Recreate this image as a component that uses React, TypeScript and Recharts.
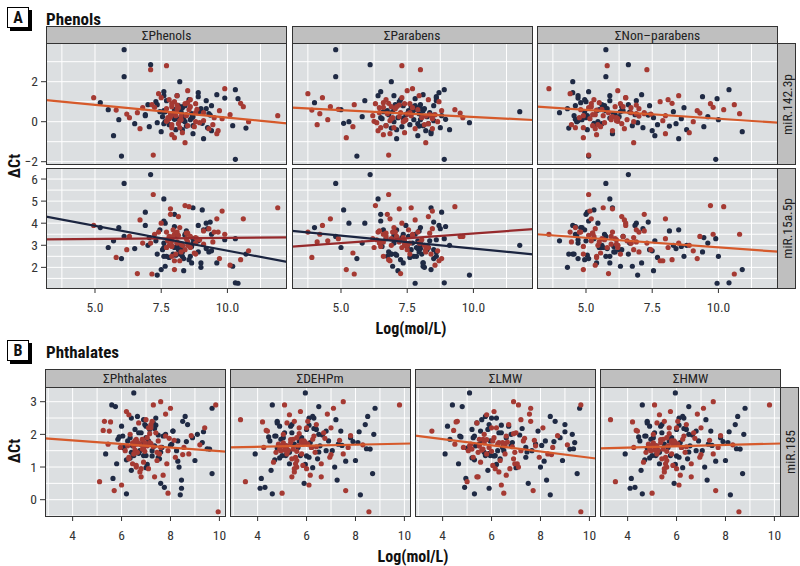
import { CartesianGrid, Scatter, ScatterChart, XAxis, YAxis } from "recharts";

// ---- data ----
// Panel A: same subjects in every facet, so one y array per miRNA row and
// one x array per exposure column. group 0 = navy, 1 = red.
const y142 = [
  3.6, 2.85, 2.8, 2.6, 2.25, 2.0, 1.65, 1.6, 1.55, 1.5,
  -1.72, -1.88, -1.67, -1.05, -0.85, -0.8, -0.7, -0.65, -0.6, -0.55,
  1.4, 1.35, 1.3, 1.3, 1.25, 1.2, 1.15, 1.1, 1.1, 1.05,
  1.0, 1.0, 0.95, 0.9, 0.9, 0.85, 0.85, 0.8, 0.8, 0.75,
  0.75, 0.7, 0.7, 0.65, 0.65, 0.6, 0.6, 0.55, 0.55, 0.5,
  0.5, 0.45, 0.45, 0.4, 0.4, 0.4, 0.35, 0.35, 0.3, 0.3,
  0.3, 0.25, 0.25, 0.2, 0.2, 0.2, 0.15, 0.15, 0.1, 0.1,
  0.1, 0.05, 0.05, 0.0, 0.0, 0.0, -0.05, -0.05, -0.1, -0.1,
  -0.15, -0.15, -0.2, -0.2, -0.25, -0.25, -0.3, -0.3, -0.35, -0.4,
  -0.4, -0.45, -0.5, 0.62, 0.38, 0.12, 0.92, 0.48, -0.08, 0.28,
  0.72, 0.18, 1.18, 0.02, -0.22, 0.58, 0.33, 0.83, -0.32, 0.43,
  0.9, 0.35, 0.6, -0.1, 0.75, 0.2, 1.05, 0.45, -0.3, 0.55,
  0.15, 0.8, 0.3, 1.2, -0.2, 0.65, 0.4, 0.05, 0.95, 0.25,
  -0.45, 0.7, 0.5, 1.45, 0.1, 0.85, 0.35, -0.6, 0.6, 0.2,
  1.1, 0.45, -0.15, 0.75, 0.3, 0.0, 0.55, 1.3, -0.35, 0.4,
];
const y15a = [
  3.4, 6.2, 2.9, 3.1, 5.8, 2.6, 3.5, 1.3, 3.0, 4.1,
  2.4, 3.3, 5.3, 2.8, 3.7, 1.9, 3.2, 2.5, 4.7, 3.0,
  3.6, 2.2, 5.1, 3.1, 2.7, 3.9, 1.28, 3.4, 2.9, 4.0,
  3.2, 2.3, 3.8, 2.6, 4.8, 3.0, 1.7, 3.5, 2.8, 3.3,
  4.2, 2.5, 3.1, 2.0, 3.6, 4.75, 2.9, 3.4, 2.4, 3.7,
  3.0, 1.72, 3.2, 4.4, 2.7, 3.5, 2.1, 3.9, 3.3, 2.6,
  4.7, 3.1, 2.8, 3.6, 1.85, 3.4, 2.95, 4.55, 3.2, 2.5,
  3.8, 2.3, 3.05, 4.0, 2.75, 3.45, 1.65, 3.25, 2.85, 4.3,
  3.15, 2.45, 3.55, 2.05, 3.35, 2.65, 3.75, 2.95, 4.15, 3.0,
  2.55, 3.6, 1.9, 3.3, 2.8, 3.85, 2.35, 3.1, 4.6, 2.7,
  3.5, 2.2, 3.25, 2.9, 3.65, 2.45, 4.05, 3.15, 2.6, 3.4,
  3.2, 2.7, 3.6, 2.9, 3.4, 4.4, 2.5, 3.1, 3.8, 2.2,
  3.0, 3.5, 2.6, 4.0, 3.3, 2.85, 3.7, 2.4, 3.15, 4.65,
  2.75, 3.45, 2.05, 3.9, 3.05, 2.6, 3.55, 4.2, 2.9, 3.25,
  2.35, 3.65, 3.0, 2.8, 4.5, 3.35, 2.5, 3.1, 3.75, 2.95,
];
const groupA = [
  0, 0, 1, 1, 0, 0, 1, 0, 1, 0,
  0, 0, 1, 1, 0, 1, 0, 1, 0, 1,
  1, 0, 0, 0, 0, 1, 0, 1, 1, 0,
  0, 1, 0, 1, 1, 0, 1, 0, 0, 1,
  1, 0, 1, 0, 1, 1, 0, 0, 1, 0,
  0, 1, 0, 1, 0, 1, 1, 0, 1, 0,
  1, 0, 0, 1, 0, 1, 0, 1, 1, 0,
  0, 1, 1, 0, 1, 0, 0, 1, 0, 1,
  1, 0, 1, 0, 0, 1, 0, 1, 1, 0,
  0, 1, 0, 1, 1, 0, 1, 0, 0, 1,
  1, 0, 0, 1, 0, 1, 0, 1, 0, 1,
  1, 0, 1, 0, 1, 0, 0, 1, 1, 0,
  1, 0, 1, 1, 0, 0, 1, 0, 1, 1,
  0, 1, 0, 0, 1, 0, 1, 1, 0, 1,
  0, 1, 1, 0, 0, 1, 0, 1, 1, 0,
];
const xPhenols = [
  6.1, 7.1, 7.7, 7.1, 6.1, 8.2, 9.9, 10.3, 8.5, 7.6,
  6.0, 10.3, 7.2, 8.4, 9.1, 8.0, 5.7, 7.9, 8.7, 8.3,
  7.4, 9.6, 7.6, 8.1, 8.9, 4.95, 10.4, 7.8, 8.6, 9.2,
  7.3, 8.0, 5.2, 8.8, 8.4, 7.0, 7.15, 9.4, 8.15, 7.9,
  10.6, 8.3, 6.8, 9.0, 7.7, 8.55, 5.5, 8.05, 9.7, 7.45,
  8.25, 6.6, 8.9, 7.85, 9.3, 8.0, 10.1, 6.9, 8.45, 7.95,
  11.9, 8.7, 7.55, 9.5, 8.35, 6.3, 8.1, 9.8, 7.75, 8.6,
  5.9, 8.2, 9.1, 7.65, 10.8, 8.4, 7.35, 8.95, 6.5, 8.15,
  9.45, 7.8, 8.5, 10.2, 7.05, 8.75, 9.25, 7.9, 6.7, 8.3,
  8.05, 9.65, 7.5, 8.85, 6.2, 8.0, 10.5, 7.6, 9.05, 8.25,
  7.25, 8.65, 9.9, 7.7, 8.45, 5.8, 9.35, 8.1, 10.7, 7.95,
  7.9, 8.3, 8.1, 7.6, 8.6, 8.0, 7.7, 8.8, 8.2, 9.0,
  7.8, 8.4, 8.05, 7.5, 8.7, 9.2, 7.95, 8.35, 8.5, 7.85,
  9.4, 8.15, 7.65, 8.9, 8.25, 7.35, 8.45, 9.6, 8.0, 7.75,
  8.55, 9.1, 7.9, 8.3, 6.9, 8.8, 7.6, 8.1, 9.3, 8.65,
];
const xParabens = [
  4.8, 6.1, 7.3, 8.0, 4.8, 6.9, 7.7, 8.9, 7.5, 6.5,
  5.6, 8.9, 6.8, 8.2, 7.1, 5.2, 7.9, 6.6, 8.4, 7.4,
  3.75, 8.1, 6.4, 7.0, 8.6, 4.3, 7.8, 6.7, 8.3, 5.9,
  7.2, 8.7, 4.0, 7.6, 6.3, 8.0, 5.5, 7.35, 8.5, 6.9,
  4.6, 7.85, 6.45, 8.15, 7.05, 9.3, 5.0, 7.55, 8.8, 6.6,
  11.75, 7.25, 8.35, 6.75, 7.95, 4.2, 8.55, 7.45, 6.2, 8.05,
  7.65, 5.8, 8.25, 6.95, 7.15, 9.6, 6.55, 8.45, 4.5, 7.75,
  8.0, 6.85, 7.4, 5.3, 8.65, 7.0, 9.85, 6.35, 7.9, 8.3,
  4.1, 7.6, 6.7, 8.1, 7.3, 5.45, 8.75, 6.5, 7.8, 9.1,
  7.1, 6.4, 8.4, 4.9, 7.5, 8.95, 6.8, 7.7, 5.1, 8.2,
  6.6, 7.35, 8.6, 6.25, 7.95, 3.9, 8.5, 7.2, 6.9, 9.5,
  7.4, 6.8, 7.9, 8.3, 7.1, 6.5, 8.6, 7.6, 7.0, 8.1,
  6.9, 7.8, 8.4, 7.3, 6.7, 8.0, 7.55, 8.5, 6.6, 7.2,
  8.2, 7.7, 6.95, 8.7, 7.45, 7.05, 8.35, 6.85, 7.85, 8.05,
  7.25, 6.45, 8.15, 7.65, 8.8, 7.35, 6.75, 7.95, 8.45, 7.5,
];
const xNonParabens = [
  5.75, 6.6, 5.8, 7.3, 5.75, 4.5, 3.6, 10.4, 6.2, 5.1,
  5.1, 9.9, 5.1, 6.8, 8.5, 4.9, 7.6, 5.4, 6.0, 8.9,
  4.4, 7.1, 5.9, 4.7, 9.4, 6.5, 9.95, 5.3, 8.1, 6.9,
  5.0, 7.8, 4.8, 6.3, 9.7, 5.6, 10.6, 4.6, 7.4, 6.1,
  5.2, 8.7, 6.7, 4.3, 7.0, 10.2, 5.5, 6.4, 9.2, 4.95,
  8.3, 5.85, 4.0, 7.2, 6.05, 10.8, 5.35, 6.85, 8.0, 4.55,
  5.65, 9.6, 6.25, 4.75, 7.55, 5.95, 8.6, 5.15, 6.55, 10.0,
  4.85, 7.9, 6.15, 5.45, 9.05, 4.65, 6.95, 5.7, 8.4, 6.35,
  4.45, 7.7, 5.25, 6.75, 9.45, 5.55, 7.15, 4.9, 6.45, 8.8,
  5.05, 6.0, 10.9, 5.6, 7.45, 4.6, 8.25, 6.65, 5.3, 7.0,
  9.8, 5.9, 4.7, 6.2, 8.15, 5.4, 7.35, 6.9, 4.35, 9.3,
  5.2, 6.1, 4.8, 5.6, 6.4, 5.0, 5.9, 6.7, 4.6, 5.4,
  6.2, 5.7, 4.9, 6.5, 5.3, 5.8, 6.9, 4.7, 5.5, 6.0,
  7.5, 5.1, 6.3, 4.5, 5.95, 6.6, 5.25, 8.0, 5.65, 6.15,
  4.95, 7.2, 5.45, 6.35, 5.05, 6.8, 5.75, 8.5, 5.35, 6.05,
];

// Panel B: miR.185 against the four phthalate sums
const y185 = [
  3.27, 3.0, 2.9, 2.9, 2.9, 2.85, 2.8, 2.8, 2.6, 2.55,
  -0.37, 0.15, 0.18, 0.2, 0.28, 0.35, 0.38, 0.45, 0.5, 0.55,
  2.5, 2.45, 2.45, 2.4, 2.4, 2.35, 2.3, 2.3, 2.25, 2.2,
  2.2, 2.15, 2.1, 2.1, 2.05, 2.05, 2.0, 2.0, 1.95, 1.95,
  1.9, 1.9, 1.85, 1.85, 1.8, 1.8, 1.8, 1.75, 1.75, 1.7,
  1.7, 1.7, 1.65, 1.65, 1.65, 1.6, 1.6, 1.6, 1.55, 1.55,
  1.5, 1.5, 1.5, 1.45, 1.45, 1.4, 1.4, 1.35, 1.35, 1.3,
  1.3, 1.25, 1.2, 1.15, 1.1, 1.1, 1.05, 1.0, 0.95, 0.9,
  0.8, 0.75, 0.7, 0.65, 0.6, 1.72, 1.58, 1.88, 1.42, 2.12,
  1.62, 1.78, 1.52, 1.98, 1.68, 1.22, 2.28, 1.82, 1.48, 1.08,
  1.92, 1.38, 2.18, 1.74, 1.56, 0.85, 2.62, 1.28, 1.66, 2.02,
  1.84, 1.46, 2.38, 1.18, 1.76, 0.98, 2.08, 1.64, 1.34, 1.96,
  1.7, 2.2, 1.4, 1.9, 1.55, 2.5, 1.25, 1.8, 2.05, 1.6,
  1.0, 2.35, 1.75, 1.45, 2.0, 1.65, 2.7, 1.3, 1.85, 1.5,
  2.15, 1.1, 1.95, 1.7, 2.4, 1.35, 1.6, 0.7, 2.25, 1.8,
  1.5, 2.55, 1.2, 1.9, 1.75, 0.95, 2.1, 1.65, 1.4, 2.3,
];
const groupB = [
  0, 1, 1, 0, 1, 0, 0, 1, 1, 0,
  1, 0, 0, 1, 1, 0, 0, 1, 0, 1,
  0, 1, 0, 1, 0, 1, 1, 0, 0, 1,
  1, 0, 1, 0, 0, 1, 1, 0, 1, 0,
  0, 1, 1, 0, 1, 0, 0, 1, 0, 1,
  1, 0, 1, 0, 0, 1, 0, 1, 1, 0,
  0, 1, 0, 1, 1, 0, 1, 0, 0, 1,
  1, 0, 0, 1, 0, 1, 1, 0, 1, 0,
  0, 1, 1, 0, 0, 1, 0, 1, 0, 1,
  1, 0, 1, 0, 1, 0, 0, 1, 1, 0,
  0, 1, 0, 1, 0, 1, 1, 0, 0, 1,
  1, 0, 1, 0, 1, 0, 0, 1, 0, 1,
  0, 1, 1, 0, 1, 0, 1, 0, 0, 1,
  1, 0, 1, 0, 0, 1, 1, 0, 1, 0,
  0, 1, 0, 1, 1, 0, 0, 1, 0, 1,
  1, 0, 1, 0, 0, 1, 0, 1, 1, 0,
];
const xPhthalates = [
  6.5, 7.6, 9.85, 5.6, 7.3, 5.75, 9.7, 8.0, 6.3, 8.6,
  9.95, 8.4, 6.2, 7.9, 5.7, 8.45, 7.75, 6.0, 7.6, 5.1,
  6.4, 7.0, 6.9, 5.3, 8.5, 6.7, 7.2, 8.7, 6.0, 9.4,
  7.1, 6.55, 5.5, 8.1, 6.8, 7.4, 6.35, 9.1, 7.8, 6.05,
  8.9, 7.05, 6.6, 5.85, 7.5, 8.3, 6.25, 7.15, 9.3, 6.75,
  5.45, 8.05, 6.95, 7.35, 6.45, 8.55, 7.65, 5.95, 6.85, 9.6,
  7.25, 6.15, 8.25, 6.65, 7.45, 5.35, 8.75, 7.0, 6.5, 8.2,
  6.3, 7.55, 9.0, 6.9, 5.8, 7.85, 6.6, 8.35, 7.1, 6.4,
  9.7, 7.7, 6.8, 5.65, 8.45, 7.2, 6.1, 7.95, 6.7, 5.25,
  7.3, 8.65, 6.55, 7.5, 9.2, 6.2, 7.4, 8.15, 6.95, 7.05,
  5.9, 8.5, 7.35, 6.45, 9.5, 6.75, 7.8, 6.35, 8.0, 7.15,
  6.85, 7.6, 5.55, 8.3, 6.65, 7.0, 9.35, 6.5, 7.25, 8.85,
  6.8, 7.2, 6.5, 7.0, 6.9, 7.4, 6.3, 7.1, 6.7, 7.6,
  6.6, 7.3, 6.95, 6.4, 7.8, 7.05, 6.2, 7.5, 6.85, 6.75,
  7.15, 6.45, 7.7, 6.6, 7.25, 6.9, 6.1, 7.35, 7.0, 6.55,
  7.9, 6.65, 7.45, 6.35, 7.1, 6.8, 8.1, 6.25, 7.55, 6.95,
];
const xDEHPm = [
  5.95, 7.5, 9.8, 4.6, 5.1, 6.5, 8.8, 7.1, 5.3, 8.5,
  8.55, 8.2, 4.6, 5.0, 7.6, 4.1, 4.3, 6.1, 5.9, 3.5,
  6.1, 3.3, 7.2, 5.5, 4.8, 5.2, 6.4, 8.4, 4.9, 7.0,
  5.7, 6.0, 4.4, 7.4, 5.4, 6.7, 5.05, 8.75, 6.3, 4.7,
  7.8, 5.6, 6.25, 4.95, 5.8, 6.9, 4.5, 5.35, 8.1, 6.05,
  4.85, 7.3, 5.65, 6.55, 5.15, 7.7, 6.2, 4.25, 5.45, 8.6,
  6.8, 5.25, 7.05, 4.75, 6.35, 3.9, 7.5, 5.75, 5.0, 6.95,
  5.55, 6.45, 8.0, 4.65, 5.3, 6.6, 5.85, 7.15, 6.0, 4.55,
  8.7, 6.15, 5.4, 4.15, 7.25, 5.9, 4.8, 6.75, 5.2, 4.35,
  6.4, 7.9, 5.1, 6.65, 8.3, 4.7, 6.1, 7.35, 5.6, 5.95,
  4.45, 7.0, 6.3, 5.05, 8.45, 5.5, 6.85, 4.9, 7.45, 5.7,
  5.35, 6.5, 4.2, 7.6, 5.8, 6.25, 8.15, 5.15, 6.0, 7.8,
  5.5, 6.0, 5.2, 5.8, 4.9, 6.3, 5.4, 5.7, 5.1, 6.2,
  5.6, 4.8, 5.95, 5.3, 6.5, 5.0, 5.75, 6.1, 5.45, 5.25,
  6.4, 5.55, 4.75, 5.85, 6.05, 5.15, 5.65, 6.6, 5.35, 5.9,
  4.95, 6.25, 5.6, 5.05, 6.15, 5.5, 6.8, 5.2, 5.8, 5.4,
];
const xLMW = [
  5.1, 6.9, 9.65, 4.4, 7.1, 4.8, 9.6, 7.6, 5.8, 8.4,
  9.65, 8.4, 5.3, 6.5, 7.7, 5.9, 4.9, 6.4, 7.5, 5.0,
  6.2, 7.2, 5.6, 4.6, 8.6, 5.4, 6.7, 9.0, 4.2, 8.1,
  6.0, 5.2, 3.56, 7.9, 6.3, 7.0, 5.7, 9.3, 6.6, 4.7,
  8.8, 6.1, 5.5, 4.3, 7.3, 8.2, 5.95, 6.45, 9.4, 5.15,
  4.5, 7.8, 6.55, 5.35, 6.8, 8.5, 7.4, 4.85, 5.65, 9.2,
  6.25, 5.05, 7.65, 5.45, 6.95, 4.1, 8.3, 6.15, 5.75, 7.95,
  5.25, 6.35, 8.9, 5.55, 4.65, 7.05, 6.05, 8.0, 6.75, 5.85,
  9.5, 6.6, 5.4, 4.95, 8.25, 6.5, 5.0, 7.35, 5.9, 4.45,
  6.85, 8.55, 5.6, 7.15, 9.1, 5.3, 6.4, 7.75, 6.0, 6.2,
  4.75, 8.45, 7.25, 5.7, 9.35, 6.3, 7.55, 5.2, 8.05, 6.9,
  5.8, 7.45, 4.55, 8.15, 6.65, 7.0, 9.0, 5.5, 6.1, 8.7,
  5.5, 6.2, 5.8, 6.6, 5.2, 6.0, 6.9, 5.6, 6.4, 5.9,
  7.1, 5.4, 6.3, 5.7, 6.8, 5.1, 6.1, 7.4, 5.65, 6.5,
  5.85, 6.95, 5.3, 6.25, 7.6, 5.95, 6.45, 5.45, 6.7, 6.05,
  7.2, 5.75, 6.35, 5.25, 6.85, 6.15, 5.55, 7.8, 6.55, 5.9,
];
// ΣHMW is dominated by the DEHP metabolites, the two facets look the same
const xHMW = xDEHPm;

// fitted lines, [x0, y0, x1, y1] at the facet edges
const fit142 = [
  [3.15, 1.08, 12.25, -0.08],
  [3.15, 0.7, 12.25, 0.085],
  [3.15, 0.75, 12.25, -0.05],
];
const fit15aNavy = [
  [3.15, 4.3, 12.25, 2.25],
  [3.15, 3.65, 12.25, 2.59],
];
const fit15aRed = [
  [3.15, 3.27, 12.25, 3.36],
  [3.15, 2.94, 12.25, 3.73],
];
const fit15aPooled = [3.15, 3.5, 12.25, 2.71];
const fit185 = [
  [2.87, 1.88, 10.27, 1.47],
  [2.87, 1.6, 10.27, 1.72],
  [2.87, 1.96, 10.27, 1.26],
  [2.87, 1.57, 10.27, 1.72],
];

const labelsA = ["ΣPhenols", "ΣParabens", "ΣNon\u2013parabens"];
const labelsB = ["ΣPhthalates", "ΣDEHPm", "ΣLMW", "ΣHMW"];
const ticksAx = [5, 7.5, 10];
const ticks142 = [-2, 0, 2];
const ticks15a = [2, 3, 4, 5, 6];
const ticksBx = [4, 6, 8, 10];
const ticks185 = [0, 1, 2, 3];

// ---- styling ----
const FONT = "'Liberation Sans Narrow', 'Roboto Condensed', 'DejaVu Sans Condensed', 'Arial Narrow', Roboto, sans-serif";
const NAVY = "#1f2a44";
const RED = "#a53a33";
const ORANGE = "#d65a2b";
const NAVY_LINE = "#1b2540";
const RED_LINE = "#962a2c";
const PANEL_BG = "#dcdfe1";
const STRIP_BG = "#bfbfbf";
const FRAME = "#333";
const TICK = { fill: "#333", fontSize: 13.5, fontFamily: FONT };
const Y_AXIS_W = 32;
const X_AXIS_H = 30;

const fmtY = (v: number) => (v < 0 ? "\u2212" + Math.abs(v) : String(v));

type Fit = { color: string; pts: number[] };

interface FacetProps {
  left: number;
  top: number;
  width: number;
  height: number;
  xs: number[];
  ys: number[];
  groups: number[];
  xDomain: [number, number];
  yDomain: [number, number];
  xGrid: number[];
  yGrid: number[];
  xTicks?: number[];
  yTicks?: number[];
  xDigits: number;
  fits: Fit[];
}

const dot = (color: string) => (props: any) => <circle cx={props.cx} cy={props.cy} r={2.6} fill={color} />;
const noDot = () => <g />;

function Facet(p: FacetProps) {
  const yW = p.yTicks ? Y_AXIS_W : 0;
  const xH = p.xTicks ? X_AXIS_H : 0;
  const pts = p.xs.map((x, i) => ({ x, y: p.ys[i], g: p.groups[i] }));
  const navy = pts.filter((d) => d.g === 0);
  const red = pts.filter((d) => d.g === 1);
  return (
    <div style={{ position: "absolute", left: p.left - yW, top: p.top }}>
      <ScatterChart width={p.width + yW} height={p.height + xH} margin={{ top: 0, right: 0, bottom: 0, left: 0 }}>
        <CartesianGrid fill={PANEL_BG} fillOpacity={1} stroke="#fff" strokeWidth={1} horizontalValues={p.yGrid} verticalValues={p.xGrid} />
        <XAxis
          type="number"
          dataKey="x"
          domain={p.xDomain}
          allowDataOverflow
          ticks={p.xTicks ?? []}
          interval={0}
          hide={!p.xTicks}
          height={xH}
          tick={TICK}
          tickFormatter={(v: number) => v.toFixed(p.xDigits)}
          tickSize={4}
          tickMargin={9}
          tickLine={{ stroke: "#333" }}
          axisLine={false}
        />
        <YAxis
          type="number"
          dataKey="y"
          domain={p.yDomain}
          allowDataOverflow
          ticks={p.yTicks ?? []}
          interval={0}
          hide={!p.yTicks}
          width={yW}
          tick={TICK}
          tickFormatter={fmtY}
          tickSize={5}
          tickMargin={3}
          tickLine={{ stroke: "#333" }}
          axisLine={false}
        />
        <Scatter data={navy} fill={NAVY} shape={dot(NAVY)} isAnimationActive={false} />
        <Scatter data={red} fill={RED} shape={dot(RED)} isAnimationActive={false} />
        {p.fits.map((f, i) => (
          <Scatter
            key={i}
            data={[
              { x: f.pts[0], y: f.pts[1] },
              { x: f.pts[2], y: f.pts[3] },
            ]}
            line={{ stroke: f.color, strokeWidth: 2.2 }}
            shape={noDot}
            isAnimationActive={false}
          />
        ))}
      </ScatterChart>
      <div
        style={{
          position: "absolute",
          left: yW,
          top: 0,
          width: p.width,
          height: p.height,
          border: `1.5px solid ${FRAME}`,
          boxSizing: "border-box",
          pointerEvents: "none",
        }}
      />
    </div>
  );
}

function TopStrip({ left, top, width, text }: { left: number; top: number; width: number; text: string }) {
  return (
    <div
      style={{
        position: "absolute",
        left,
        top,
        width,
        height: 18,
        boxSizing: "border-box",
        background: STRIP_BG,
        border: `1.5px solid ${FRAME}`,
        borderBottom: "none",
        fontSize: 13.5,
        lineHeight: "17px",
        textAlign: "center",
        color: "#222",
      }}
    >
      {text}
    </div>
  );
}

function SideStrip({ left, top, height, text }: { left: number; top: number; height: number; text: string }) {
  return (
    <div
      style={{
        position: "absolute",
        left,
        top,
        width: 18,
        height,
        boxSizing: "border-box",
        background: STRIP_BG,
        border: `1.5px solid ${FRAME}`,
        borderLeft: "none",
        display: "flex",
        alignItems: "center",
        justifyContent: "center",
        color: "#222",
        fontSize: 13.5,
      }}
    >
      <span style={{ writingMode: "vertical-rl", transform: "rotate(180deg)" }}>{text}</span>
    </div>
  );
}

function PanelBadge({ top, letter, title }: { top: number; letter: string; title: string }) {
  return (
    <>
      <div
        style={{
          position: "absolute",
          left: 7,
          top,
          width: 22,
          height: 21,
          boxSizing: "border-box",
          border: "1px solid #000",
          boxShadow: "3px 3px 0 #000",
          background: "#fff",
          fontWeight: 700,
          fontSize: 16,
          lineHeight: "19px",
          textAlign: "center",
        }}
      >
        {letter}
      </div>
      <div style={{ position: "absolute", left: 46, top: top + 3, fontWeight: 700, fontSize: 17, lineHeight: "18px" }}>{title}</div>
    </>
  );
}

function AxisTitle({ x, y, text, rotate }: { x: number; y: number; text: string; rotate?: boolean }) {
  return (
    <div
      style={{
        position: "absolute",
        left: x,
        top: y,
        transform: `translate(-50%, -50%)${rotate ? " rotate(-90deg)" : ""}`,
        fontWeight: 700,
        fontSize: 16,
        whiteSpace: "nowrap",
      }}
    >
      {text}
    </div>
  );
}

export default function App() {
  // panel A geometry
  const aLefts = [46, 291.5, 537];
  const aW = 241;
  const aRowTops = [43, 168];
  const aH = [122, 121];
  const aX: [number, number] = [3.15, 12.25];
  const aXGrid = [3.75, 5, 6.25, 7.5, 8.75, 10, 11.25];
  const xsA = [xPhenols, xParabens, xNonParabens];

  // panel B geometry
  const bLefts = [44.5, 229.5, 415, 600];
  const bW = 181;
  const bTop = 387;
  const bH = 130;
  const bX: [number, number] = [2.87, 10.27];
  const xsB = [xPhthalates, xDEHPm, xLMW, xHMW];

  return (
    <div style={{ position: "absolute", left: 0, top: 0, width: 800, height: 566, background: "#fff", fontFamily: FONT, color: "#111" }}>
      <style>{".recharts-surface, .recharts-wrapper { overflow: visible !important; }"}</style>
      <PanelBadge top={7} letter="A" title="Phenols" />
      {labelsA.map((t, c) => (
        <TopStrip key={t} left={aLefts[c]} top={25.5} width={aW} text={t} />
      ))}
      {xsA.map((xs, c) => (
        <Facet
          key={"r2" + c}
          left={aLefts[c]}
          top={aRowTops[1]}
          width={aW}
          height={aH[1]}
          xs={xs}
          ys={y15a}
          groups={groupA}
          xDomain={aX}
          yDomain={[1.02, 6.5]}
          xGrid={aXGrid}
          yGrid={[1.5, 2, 2.5, 3, 3.5, 4, 4.5, 5, 5.5, 6]}
          xTicks={ticksAx}
          yTicks={c === 0 ? ticks15a : undefined}
          xDigits={1}
          fits={
            c < 2
              ? [
                  { color: RED_LINE, pts: fit15aRed[c] },
                  { color: NAVY_LINE, pts: fit15aNavy[c] },
                ]
              : [{ color: ORANGE, pts: fit15aPooled }]
          }
        />
      ))}
      {xsA.map((xs, c) => (
        <Facet
          key={"r1" + c}
          left={aLefts[c]}
          top={aRowTops[0]}
          width={aW}
          height={aH[0]}
          xs={xs}
          ys={y142}
          groups={groupA}
          xDomain={aX}
          yDomain={[-2.165, 3.935]}
          xGrid={aXGrid}
          yGrid={[-2, -1, 0, 1, 2, 3]}
          yTicks={c === 0 ? ticks142 : undefined}
          xDigits={1}
          fits={[{ color: ORANGE, pts: fit142[c] }]}
        />
      ))}
      <SideStrip left={778} top={aRowTops[0]} height={aH[0]} text="miR.142.3p" />
      <SideStrip left={778} top={aRowTops[1]} height={aH[1]} text="miR.15a.5p" />
      <AxisTitle x={14} y={166} text="ΔCt" rotate />
      <AxisTitle x={411} y={328} text="Log(mol/L)" />

      <PanelBadge top={340} letter="B" title="Phthalates" />
      {labelsB.map((t, c) => (
        <TopStrip key={t} left={bLefts[c]} top={369} width={bW} text={t} />
      ))}
      {xsB.map((xs, c) => (
        <Facet
          key={"b" + c}
          left={bLefts[c]}
          top={bTop}
          width={bW}
          height={bH}
          xs={xs}
          ys={y185}
          groups={groupB}
          xDomain={bX}
          yDomain={[-0.53, 3.45]}
          xGrid={[3, 4, 5, 6, 7, 8, 9, 10]}
          yGrid={[-0.5, 0, 0.5, 1, 1.5, 2, 2.5, 3]}
          xTicks={ticksBx}
          yTicks={c === 0 ? ticks185 : undefined}
          xDigits={0}
          fits={[{ color: ORANGE, pts: fit185[c] }]}
        />
      ))}
      <SideStrip left={781} top={bTop} height={bH} text="miR.185" />
      <AxisTitle x={14} y={451} text="ΔCt" rotate />
      <AxisTitle x={413} y={556} text="Log(mol/L)" />
    </div>
  );
}
